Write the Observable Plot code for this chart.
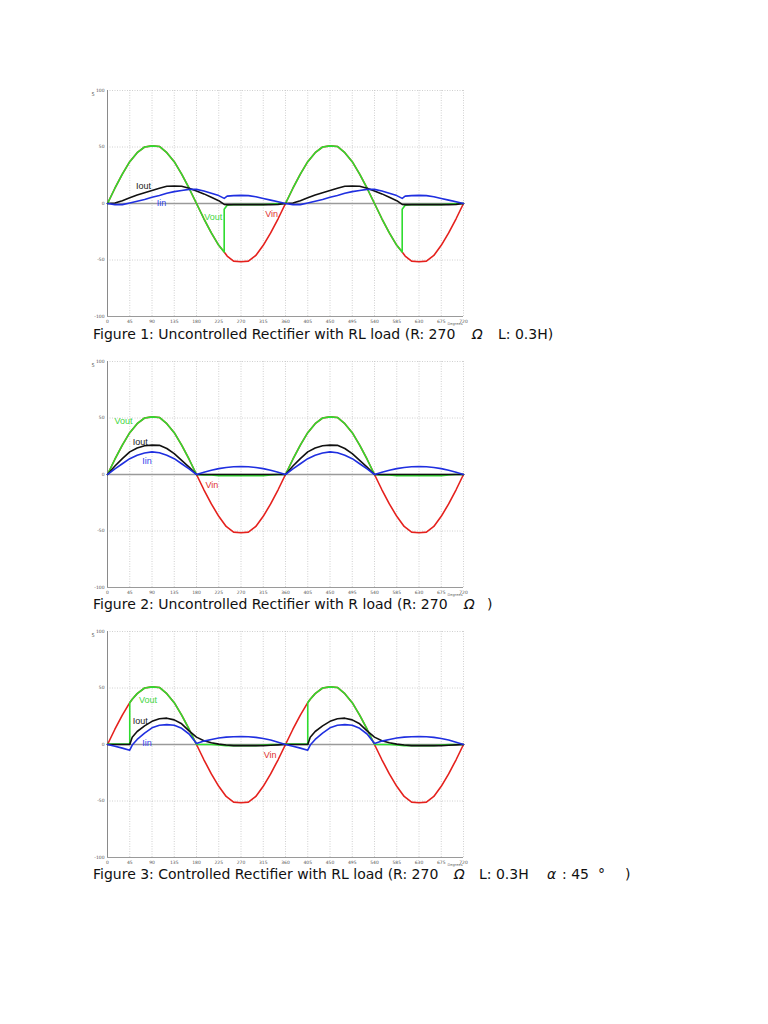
<!DOCTYPE html>
<html><head><meta charset="utf-8">
<script src="https://cdn.jsdelivr.net/npm/d3@7"></script>
<script src="https://cdn.jsdelivr.net/npm/@observablehq/plot@0.6"></script>
<style>
html,body{margin:0;padding:0;background:#fff;width:768px;height:1024px;overflow:hidden;}
.fig{position:absolute;left:80px;}
.cap{position:absolute;left:0;width:768px;height:13px;font-family:"DejaVu Sans";font-size:14px;line-height:13px;color:#111;white-space:nowrap;}
.cap span{position:absolute;top:0;}
.cap i{font-style:italic}
</style></head><body>
<div id="f1" class="fig" style="top:80px"></div>
<div class="cap" style="top:328px"><span style="left:93px">Figure 1: Uncontrolled Rectifier with RL load (R: 270</span><span style="left:472px"><i>Ω</i></span><span style="left:498px">L: 0.3H)</span></div>
<div id="f2" class="fig" style="top:351px"></div>
<div class="cap" style="top:598px"><span style="left:93px">Figure 2: Uncontrolled Rectifier with R load (R: 270</span><span style="left:464px"><i>Ω</i></span><span style="left:487px">)</span></div>
<div id="f3" class="fig" style="top:621px"></div>
<div class="cap" style="top:868px"><span style="left:93px">Figure 3: Controlled Rectifier with RL load (R: 270</span><span style="left:454px"><i>Ω</i></span><span style="left:479px">L: 0.3H</span><span style="left:547px"><i>α</i></span><span style="left:562px">: 45</span><span style="left:598px">°</span><span style="left:625px">)</span></div>
<script>
const xTicks = [0,45,90,135,180,225,270,315,360,405,450,495,540,585,630,675,720];
const yTicks = [-100,-50,0,50,100];
const seriesNames = ["Vin","Vout","Iout","Iin"];
const seriesColors = ["#e5211d","#2fdc2f","#111111","#1f2fe0"];
const labelNames = ["Iout","Iin","Vout","Vin"];
const labelColors = ["#222222","#3344ee","#3fd63f","#e03030"];

// Figure 1: uncontrolled, RL load
const fig1Deg = [0,15,30,45,60,75,90,105,120,135,150,165,180,195,210,225,236,236,242,255,270,285,300,315,330,345,
  360,375,390,405,420,435,450,465,480,495,510,525,540,555,570,585,596,596,602,615,630,645,660,675,690,705,720];
const fig1Vin = [0,13.5,26,37,45,50,51,50.5,45,37,26,13.5,0,-13.5,-26,-37,-43,-43,-46.5,-51,-51.5,-51,-46,-37,-26,-13.5,
  0,13.5,26,37,45,50,51,50.5,45,37,26,13.5,0,-13.5,-26,-37,-43,-43,-46.5,-51,-51.5,-51,-46,-37,-26,-13.5,0];
const fig1Vout = [0,13.5,26,37,45,50,51,50.5,45,37,26,13.5,0,-13.5,-26,-37,-43,-5,-1.5,-1,-1,-1,-1,-1,-0.5,0,
  0,13.5,26,37,45,50,51,50.5,45,37,26,13.5,0,-13.5,-26,-37,-43,-5,-1.5,-1,-1,-1,-1,-1,-0.5,0,0];
const fig1Iout = [0,0.5,2.5,5,7.5,9.5,11.5,13.5,15.2,15.5,15.3,13.5,11,8.5,5.5,2.5,-0.8,-0.8,-1,-1,-1,-1,-1,-1,-1,-0.8,
  0,0.5,2.5,5,7.5,9.5,11.5,13.5,15.2,15.5,15.3,13.5,11,8.5,5.5,2.5,-0.8,-0.8,-1,-1,-1,-1,-1,-1,-1,-0.8,0];
const fig1Iin = [0,-1,-1,0.5,2,3.5,5.5,7,9,10.5,11.5,12.5,12.5,11,9,7,4.5,4.5,6.5,7,7.2,7,6,4.5,3,1.5,
  0,-1,-1,0.5,2,3.5,5.5,7,9,10.5,11.5,12.5,12.5,11,9,7,4.5,4.5,6.5,7,7.2,7,6,4.5,3,1.5,0];
const fig1LabelDeg = [73,109,214,332];
const fig1LabelVal = [15.5,0.5,-12,-9];

// Figure 2: uncontrolled, R load
const fig2Deg = [0,15,30,45,60,75,90,105,120,135,150,165,180,195,210,225,240,255,270,285,300,315,330,345,
  360,375,390,405,420,435,450,465,480,495,510,525,540,555,570,585,600,615,630,645,660,675,690,705,720];
const fig2Vin = [0,13.5,26,37,45,50,51,50.5,45,37,26,13.5,0,-13.5,-26,-37,-46,-51,-51.5,-51,-46,-37,-26,-13.5,
  0,13.5,26,37,45,50,51,50.5,45,37,26,13.5,0,-13.5,-26,-37,-46,-51,-51.5,-51,-46,-37,-26,-13.5,0];
const fig2Vout = [0,13.5,26,37,45,50,51,50.5,45,37,26,13.5,0,-0.3,-0.5,-1,-1,-1,-1,-1,-1,-1,-0.3,0,
  0,13.5,26,37,45,50,51,50.5,45,37,26,13.5,0,-0.3,-0.5,-1,-1,-1,-1,-1,-1,-1,-0.3,0,0];
const fig2Iout = [0,7.5,14,20,23.5,25.5,26,25.8,23,18.5,12.5,6.5,0,0,0,0,0,0,0,0,0,0,0,0,
  0,7.5,14,20,23.5,25.5,26,25.8,23,18.5,12.5,6.5,0,0,0,0,0,0,0,0,0,0,0,0,0];
const fig2Iin = [0,5,9.5,14,17,19,20,19.2,17,14,9.5,5,0,2,3.8,5.2,6.2,6.8,7,6.8,6.2,5.2,3.8,2,
  0,5,9.5,14,17,19,20,19.2,17,14,9.5,5,0,2,3.8,5.2,6.2,6.8,7,6.8,6.2,5.2,3.8,2,0];
const fig2LabelDeg = [66,80,32.5,211];
const fig2LabelVal = [28.8,12.2,47,-9.6];

// Figure 3: controlled, RL load, alpha 45
const fig3Deg = [0,15,30,45,45,50,60,75,90,105,120,135,150,165,180,195,210,225,240,255,270,285,300,315,330,345,
  360,375,390,405,405,410,420,435,450,465,480,495,510,525,540,555,570,585,600,615,630,645,660,675,690,705,720];
const fig3Vin = [0,13.5,26,37,37,40,45,50,51,50.5,45,37,26,13.5,0,-13.5,-26,-37,-46,-51,-51.5,-51,-46,-37,-26,-13.5,
  0,13.5,26,37,37,40,45,50,51,50.5,45,37,26,13.5,0,-13.5,-26,-37,-46,-51,-51.5,-51,-46,-37,-26,-13.5,0];
const fig3Vout = [0.5,0.5,0.5,0.5,37,40,45,50,51,50.5,45,37,26,13.5,0,0,0,-0.3,-1,-1,-1,-1,-1,-0.5,0,0,
  0.5,0.5,0.5,0.5,37,40,45,50,51,50.5,45,37,26,13.5,0,0,0,-0.3,-1,-1,-1,-1,-1,-0.5,0,0,0];
const fig3Iout = [0,0,0,0,0,6.5,11.5,16.5,20.5,22.8,23.3,21.8,18.3,12,6.5,3.3,1.5,0.3,-0.5,-1,-1,-1,-1,-1,-0.7,-0.3,
  0,0,0,0,0,6.5,11.5,16.5,20.5,22.8,23.3,21.8,18.3,12,6.5,3.3,1.5,0.3,-0.5,-1,-1,-1,-1,-1,-0.7,-0.3,0];
const fig3Iin = [0,-1.5,-3.2,-5,-5,-0.5,4.5,10,14.8,17,17.6,17,14.3,9.3,0.8,3,4.5,5.8,6.5,6.9,7,6.8,6.3,5.3,4,2,
  0,-1.5,-3.2,-5,-5,-0.5,4.5,10,14.8,17,17.6,17,14.3,9.3,0.8,3,4.5,5.8,6.5,6.9,7,6.8,6.3,5.3,4,2,0];
const fig3LabelDeg = [66,80,82,329];
const fig3LabelVal = [21,1.5,39,-9.6];

function chart(deg, series, labelDeg, labelVal) {
  const rows = [];
  series.forEach((vals, s) => deg.forEach((d, i) => rows.push({deg: d, val: vals[i], name: seriesNames[s]})));
  const labels = labelNames.map((n, i) => ({name: n, deg: labelDeg[i], val: labelVal[i], color: labelColors[i]}));
  const grid = {stroke: "#c4c4c4", strokeDasharray: "1,1.5", strokeWidth: 0.8};
  return Plot.plot({
    width: 400, height: 252,
    marginLeft: 27, marginRight: 17, marginTop: 10, marginBottom: 16,
    style: {background: "white", fontFamily: "DejaVu Sans", color: "#555"},
    x: {domain: [0, 720]},
    y: {domain: [-100, 100]},
    color: {domain: seriesNames, range: seriesColors},
    marks: [
      Plot.ruleX(xTicks.slice(1), grid),
      Plot.ruleY([100, 50, -50], grid),
      Plot.ruleY([0], {stroke: "#9a9a9a", strokeWidth: 1.4}),
      Plot.ruleY([-100], {stroke: "#9a9a9a", strokeWidth: 1}),
      Plot.ruleX([0], {stroke: "#8a8a8a", strokeWidth: 1}),
      Plot.axisX({ticks: xTicks, tickSize: 0, tickPadding: 3, fontSize: 4.5, label: null, tickFormat: d => String(d)}),
      Plot.axisY({ticks: yTicks, tickSize: 0, tickPadding: 3, fontSize: 4.5, label: null, tickFormat: d => String(d)}),
      Plot.text(["5"], {frameAnchor: "top-left", dx: -16, dy: 2, fontSize: 5, fill: "#555"}),
      Plot.text(["Degrees"], {frameAnchor: "bottom-right", textAnchor: "end", dx: -1, dy: 8.5, fontSize: 3.6, fill: "#666"}),
      Plot.line(rows, {x: "deg", y: "val", z: "name", stroke: "name", strokeWidth: 1.6, strokeLinejoin: "round"}),
      Plot.text(labels, {x: "deg", y: "val", text: "name", fill: "color", fontSize: 9, fontFamily: "Liberation Sans"})
    ]
  });
}

document.getElementById("f1").append(chart(fig1Deg, [fig1Vin, fig1Vout, fig1Iout, fig1Iin], fig1LabelDeg, fig1LabelVal));
document.getElementById("f2").append(chart(fig2Deg, [fig2Vin, fig2Vout, fig2Iout, fig2Iin], fig2LabelDeg, fig2LabelVal));
document.getElementById("f3").append(chart(fig3Deg, [fig3Vin, fig3Vout, fig3Iout, fig3Iin], fig3LabelDeg, fig3LabelVal));
</script>
</body></html>
